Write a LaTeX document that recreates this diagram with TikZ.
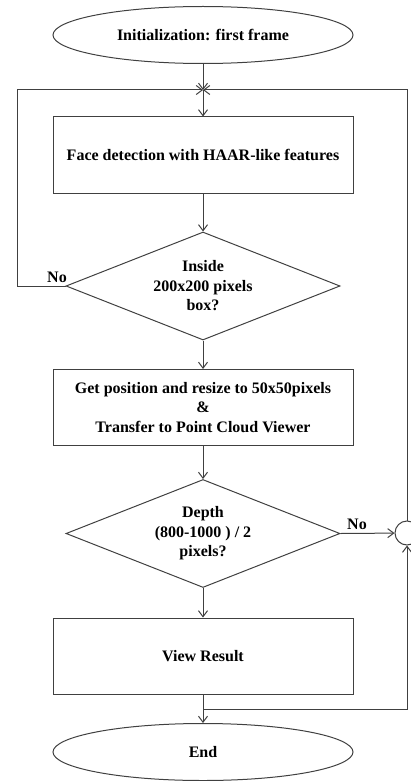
\documentclass[tikz,border=0pt]{standalone}
\usepackage{fontspec}
\setmainfont{Liberation Serif}
\usetikzlibrary{shapes.geometric,arrows.meta}

\begin{document}
\begin{tikzpicture}[x=1pt,y=-1pt,line width=1pt,black!75,
        >={Straight Barb[length=6pt,width=9pt]},
        every node/.style={text=black,font=\fontsize{16}{19.5}\selectfont\bfseries,align=center},
        term/.style={draw,ellipse,minimum width=300pt,minimum height=57pt,inner sep=0pt},
        stepbox/.style={draw,rectangle,minimum width=300pt,minimum height=76pt},
        test/.style={draw,diamond,aspect=2.5,minimum width=274pt,minimum height=108pt,inner sep=0pt},
        conn/.style={draw,circle,minimum size=24pt,inner sep=0pt}]
    \useasboundingbox (0,0) rectangle (411,781);
    % blocks
    \node[term] (init) at (203,35) {Initialization: first frame};
    \node[stepbox] (face) at (203,155) {Face detection with HAAR-like features};
    \node[test] (inside) at (203,286) {Inside\\200x200 pixels\\box?};
    \node[stepbox] (resize) at (203,407.5) {Get position and resize to 50x50pixels\\\&\\Transfer to Point Cloud Viewer};
    \node[test] (depth) at (203,533.5) {Depth\\(800-1000 ) / 2\\pixels?};
    \node[stepbox] (result) at (203,656) {View Result};
    \node[term] (end) at (203,752) {End};
    \node[conn] (join) at (407,533) {};
    \coordinate (jtop) at (203,90);
    \coordinate (jbot) at (203,709);
    \coordinate (lft) at (17,90);
    % main flow
    \draw[->] (init) -- (jtop);
    \draw[->] (jtop) -- (face);
    \draw[->] (face) -- (inside);
    \draw[->] (inside) -- (resize);
    \draw[->] (resize) -- (depth);
    \draw[->] (depth) -- (result);
    \draw[->] (result) -- (end);
    % loops back
    \draw[->] (inside.west) -| (lft) -- (jtop);
    \node (no1) at (57,277) {No};
    \draw[->] (depth.east) -- (join);
    \node (no2) at (357,524) {No};
    \draw[->] (jbot) -| (join.south);
    \draw[->] (join.north) |- (jtop);
\end{tikzpicture}
\end{document}
